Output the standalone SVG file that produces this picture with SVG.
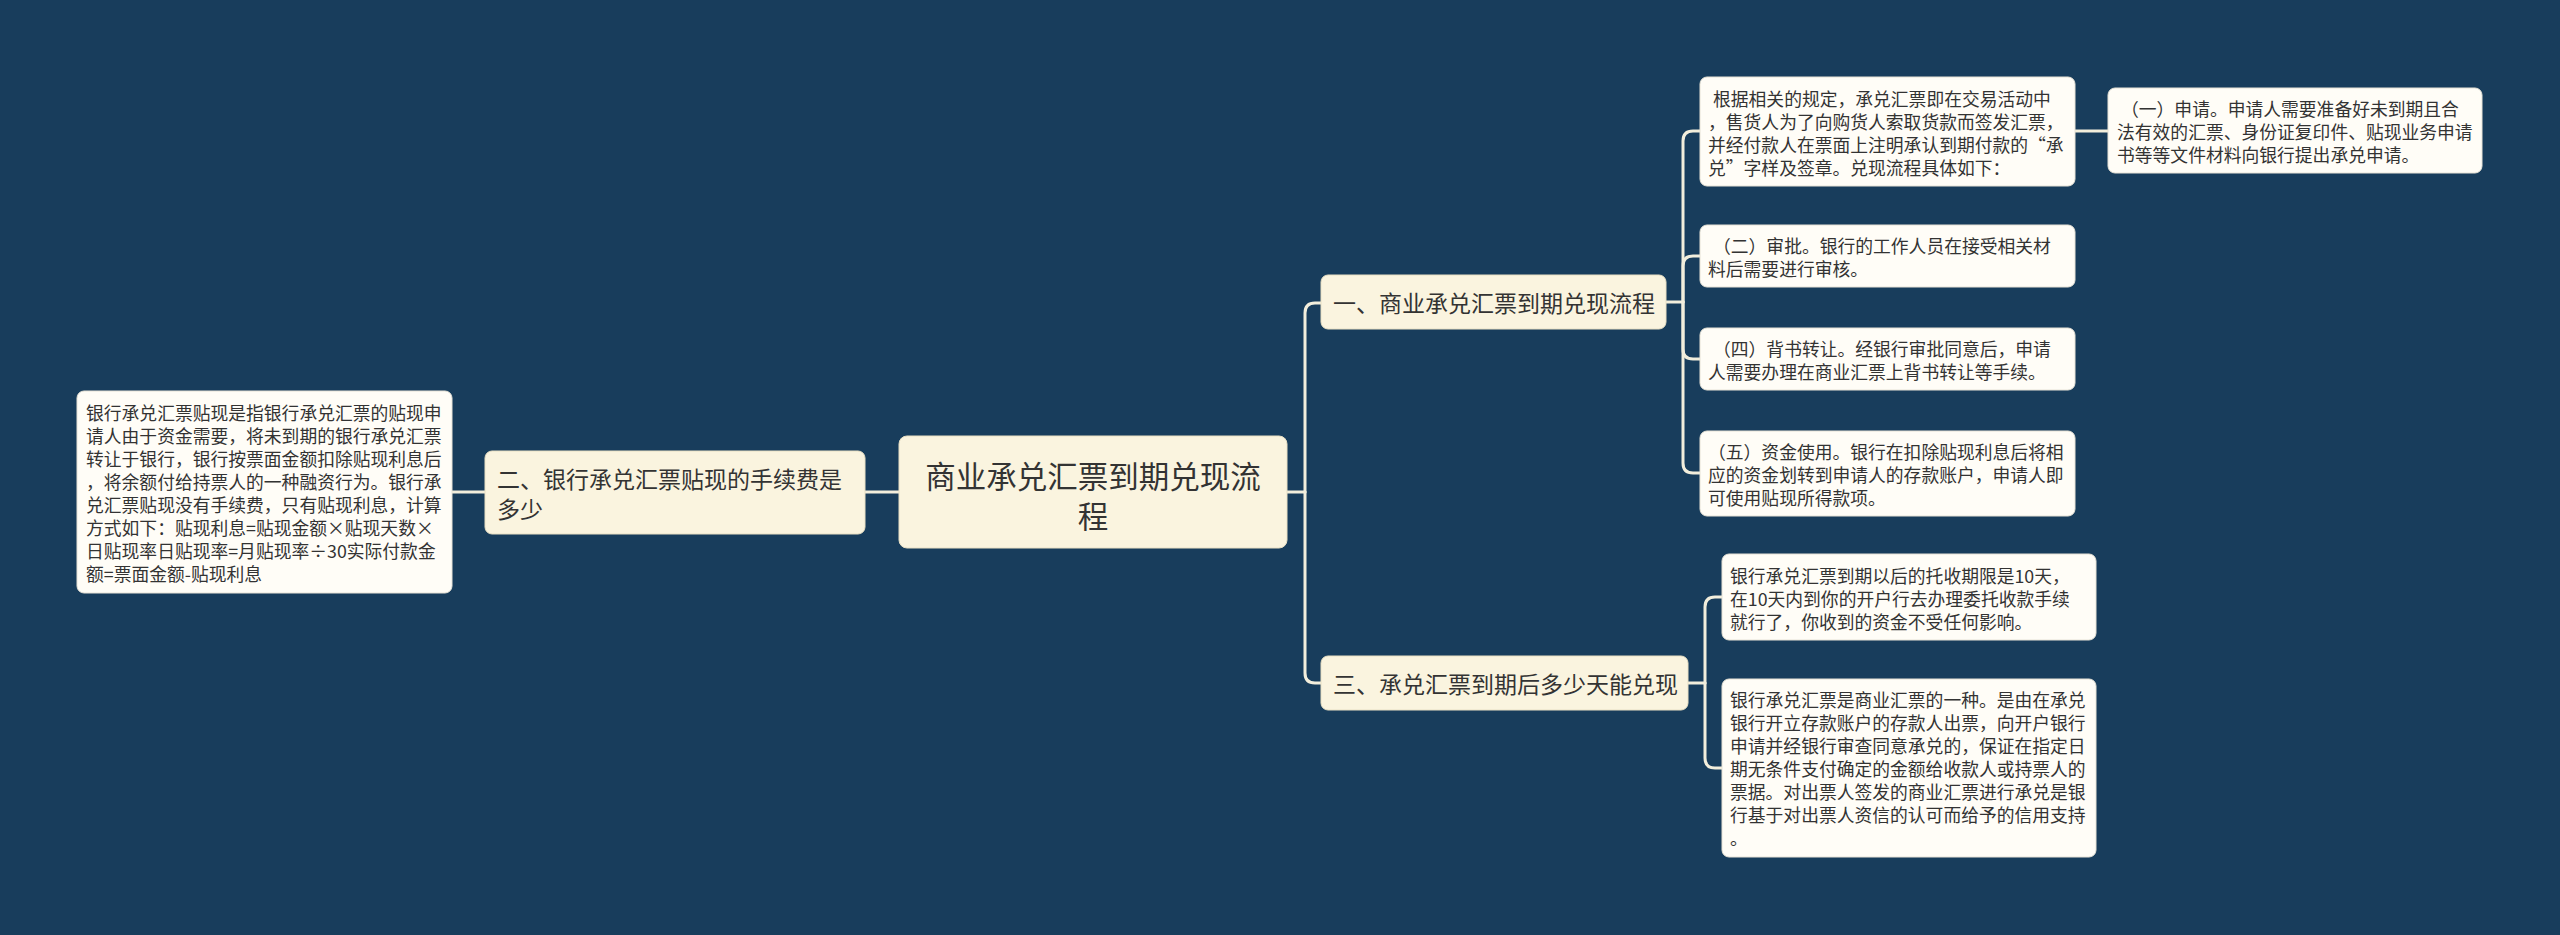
<svg xmlns="http://www.w3.org/2000/svg" width="2560" height="935" viewBox="0 0 2560 935">
<style>
.bg{fill:#183d5c}
.main{fill:#faf4df;stroke:#e8e0c4;stroke-width:1}
.leaf{fill:#fffdf7;stroke:#e6e2d6;stroke-width:1}
text{font-family:"Noto Sans CJK SC","Noto Sans",sans-serif;fill:#333333;dominant-baseline:central}
.t0{font-size:30.5px}
.t1{font-size:23px}
.t2{font-size:17.8px}
.conn path{fill:none;stroke:#f2eedc;stroke-width:3;stroke-linecap:round}
</style>
<rect class="bg" x="0" y="0" width="2560" height="935"/>
<g class="conn" id="connectors">
<path d="M899 492H865"/>
<path d="M485 492H452"/>
<path d="M1287 492H1305"/>
<path d="M1305 492V313Q1305 303 1315 303H1321"/>
<path d="M1305 492V673Q1305 683 1315 683H1321"/>
<path d="M1666 302H1683"/>
<path d="M1683 302V141Q1683 131 1693 131H1700"/>
<path d="M1683 302V266Q1683 256 1693 256H1700"/>
<path d="M1683 302V349Q1683 359 1693 359H1700"/>
<path d="M1683 302V463Q1683 473 1693 473H1700"/>
<path d="M2075 131H2108"/>
<path d="M1688 683H1705"/>
<path d="M1705 683V607Q1705 597 1715 597H1722"/>
<path d="M1705 683V758Q1705 768 1715 768H1722"/>
</g>
<g id="root">
<rect class="main" x="899" y="436" width="388" height="112" rx="8"/>
<text class="t0" x="1093" y="475" text-anchor="middle">商业承兑汇票到期兑现流</text>
<text class="t0" x="1093" y="515" text-anchor="middle">程</text>
</g>
<g id="n2">
<rect class="main" x="485" y="451" width="380" height="83" rx="7"/>
<text class="t1" x="497" y="477.5">二、银行承兑汇票贴现的手续费是</text>
<text class="t1" x="497" y="507.5">多少</text>
</g>
<g id="n2leaf">
<rect class="leaf" x="77" y="391" width="375" height="202" rx="7"/>
<text class="t2" x="86" y="411.5">银行承兑汇票贴现是指银行承兑汇票的贴现申</text>
<text class="t2" x="86" y="434.5">请人由于资金需要，将未到期的银行承兑汇票</text>
<text class="t2" x="86" y="457.5">转让于银行，银行按票面金额扣除贴现利息后</text>
<text class="t2" x="86" y="480.5">，将余额付给持票人的一种融资行为。银行承</text>
<text class="t2" x="86" y="503.5">兑汇票贴现没有手续费，只有贴现利息，计算</text>
<text class="t2" x="86" y="526.5">方式如下：贴现利息=贴现金额×贴现天数×</text>
<text class="t2" x="86" y="549.5">日贴现率日贴现率=月贴现率÷30实际付款金</text>
<text class="t2" x="86" y="572.5">额=票面金额-贴现利息</text>
</g>
<g id="n1">
<rect class="main" x="1321" y="275" width="345" height="54" rx="7"/>
<text class="t1" x="1333" y="302">一、商业承兑汇票到期兑现流程</text>
</g>
<g id="n1a">
<rect class="leaf" x="1700" y="77" width="375" height="109" rx="7"/>
<text class="t2" x="1713" y="98">根据相关的规定，承兑汇票即在交易活动中</text>
<text class="t2" x="1708" y="121">，售货人为了向购货人索取货款而签发汇票，</text>
<text class="t2" x="1708" y="144">并经付款人在票面上注明承认到期付款的“承</text>
<text class="t2" x="1708" y="167">兑”字样及签章。兑现流程具体如下：</text>
</g>
<g id="n1a1">
<rect class="leaf" x="2108" y="88" width="374" height="85" rx="7"/>
<text class="t2" x="2121" y="107.5">（一）申请。申请人需要准备好未到期且合</text>
<text class="t2" x="2117" y="130.5">法有效的汇票、身份证复印件、贴现业务申请</text>
<text class="t2" x="2117" y="153.5">书等等文件材料向银行提出承兑申请。</text>
</g>
<g id="n1b">
<rect class="leaf" x="1700" y="225" width="375" height="62" rx="7"/>
<text class="t2" x="1713" y="244.5">（二）审批。银行的工作人员在接受相关材</text>
<text class="t2" x="1708" y="267.5">料后需要进行审核。</text>
</g>
<g id="n1c">
<rect class="leaf" x="1700" y="328" width="375" height="62" rx="7"/>
<text class="t2" x="1713" y="347.5">（四）背书转让。经银行审批同意后，申请</text>
<text class="t2" x="1708" y="370.5">人需要办理在商业汇票上背书转让等手续。</text>
</g>
<g id="n1d">
<rect class="leaf" x="1700" y="431" width="375" height="85" rx="7"/>
<text class="t2" x="1708" y="450.5">（五）资金使用。银行在扣除贴现利息后将相</text>
<text class="t2" x="1708" y="473.5">应的资金划转到申请人的存款账户，申请人即</text>
<text class="t2" x="1708" y="496.5">可使用贴现所得款项。</text>
</g>
<g id="n3">
<rect class="main" x="1321" y="656" width="367" height="54" rx="7"/>
<text class="t1" x="1333" y="683">三、承兑汇票到期后多少天能兑现</text>
</g>
<g id="n3a">
<rect class="leaf" x="1722" y="554" width="374" height="86" rx="7"/>
<text class="t2" x="1730" y="574.5">银行承兑汇票到期以后的托收期限是10天，</text>
<text class="t2" x="1730" y="597.5">在10天内到你的开户行去办理委托收款手续</text>
<text class="t2" x="1730" y="620.5">就行了，你收到的资金不受任何影响。</text>
</g>
<g id="n3b">
<rect class="leaf" x="1722" y="679" width="374" height="178" rx="7"/>
<text class="t2" x="1730" y="699">银行承兑汇票是商业汇票的一种。是由在承兑</text>
<text class="t2" x="1730" y="722">银行开立存款账户的存款人出票，向开户银行</text>
<text class="t2" x="1730" y="745">申请并经银行审查同意承兑的，保证在指定日</text>
<text class="t2" x="1730" y="768">期无条件支付确定的金额给收款人或持票人的</text>
<text class="t2" x="1730" y="791">票据。对出票人签发的商业汇票进行承兑是银</text>
<text class="t2" x="1730" y="814">行基于对出票人资信的认可而给予的信用支持</text>
<text class="t2" x="1730" y="837">。</text>
</g>
</svg>
